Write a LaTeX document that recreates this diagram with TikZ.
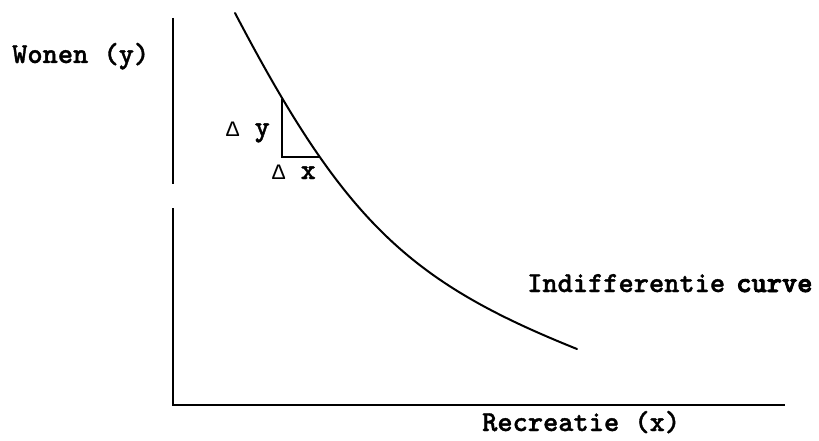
\documentclass[tikz,border=0pt]{standalone}
\usepackage{fontspec}
\newfontfamily\tw{lmmonolt10-bold}[Extension=.otf,FakeBold=1.2]
\newfontfamily\twheavy{lmmonolt10-bold}[Extension=.otf,FakeBold=3]
\newfontfamily\dfont{Liberation Mono}
\begin{document}
\begin{tikzpicture}[x=1pt,y=-1pt,
  lbl/.style={inner sep=0pt,anchor=base west,font=\tw\fontsize{29}{32}\selectfont},
  axisline/.style={line width=2pt},
  curveline/.style={line width=2pt,line cap=round}]
\useasboundingbox (0,0) rectangle (819,441);
% axes
\coordinate (ytop) at (173,18);
\coordinate (ygap1) at (173,184);
\coordinate (ygap2) at (173,208);
\coordinate (origin) at (173,405);
\coordinate (xend) at (785,405);
\draw[axisline] (ytop) -- (ygap1);
\draw[axisline] (ygap2) -- (origin) -- (xend);
% curve
\coordinate (cstart) at (235,13);
\coordinate (cend) at (577,349);
\draw[curveline] (cstart) .. controls (345,223) and (410,282) .. (cend);
% triangle
\coordinate (tA) at (282,99);
\coordinate (tB) at (282,157);
\coordinate (tC) at (320,157);
\draw[line width=1.6pt] (tA) -- (tB) -- (tC);
% labels
\node[lbl] (wonen) at (12,63) {Wonen (y)};
\node[lbl] (dy) at (226,136) {{\dfont\fontsize{22}{24}\selectfont Δ} y};
\node[lbl] (dx) at (272,179) {{\dfont\fontsize{22}{24}\selectfont Δ} x};
\node[lbl] (indiff) at (527,292) {Indifferentie\kern-4pt\ {\twheavy curve}};
\node[lbl] (recr) at (482,431) {Recreatie (x)};
\end{tikzpicture}
\end{document}
